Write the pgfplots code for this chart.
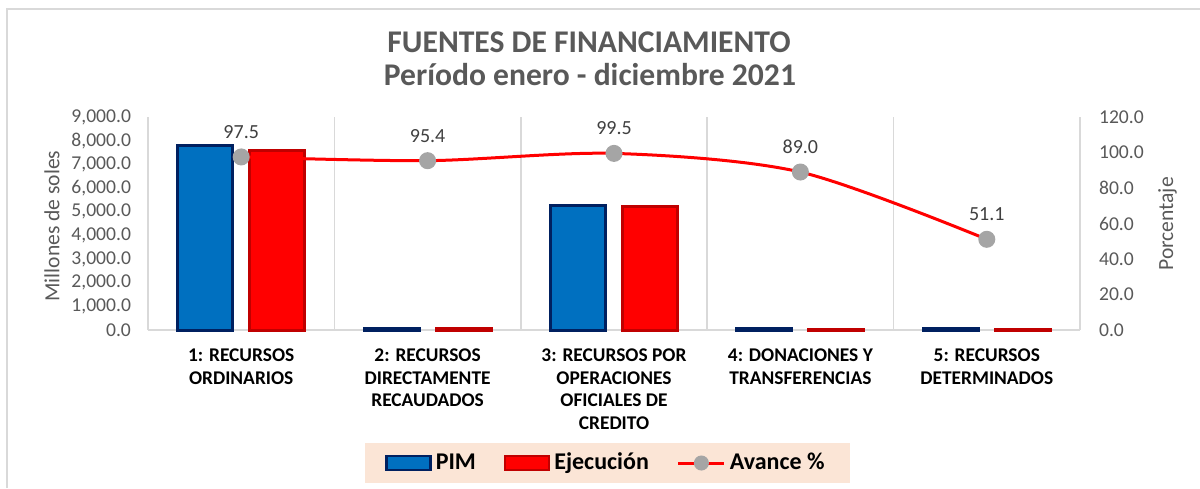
\documentclass[border=0pt]{standalone}
\usepackage{fontspec}
\setmainfont{Carlito}
\usepackage{pgfplots}
\pgfplotsset{compat=1.18}
\definecolor{pimfill}{HTML}{0070C0}
\definecolor{pimdraw}{HTML}{002060}
\definecolor{ejfill}{HTML}{FF0000}
\definecolor{ejdraw}{HTML}{C00000}
\definecolor{txt}{HTML}{595959}
\definecolor{lbl}{HTML}{404040}
\definecolor{mk}{HTML}{A5A5A5}
\definecolor{grd}{HTML}{D9D9D9}
\definecolor{leg}{HTML}{FBE5D6}
\begin{document}
\begin{tikzpicture}
\path[use as bounding box] (0,0) rectangle (600pt,-244pt);
\draw[grd, line width=1pt] (3.5pt,-244pt) -- (3.5pt,-4.5pt) -- (600pt,-4.5pt);
\node[font=\bfseries\fontsize{15.8}{18}\selectfont, text=txt] at (294.5pt,-21pt) {FUENTES DE FINANCIAMIENTO};
\node[font=\bfseries\fontsize{15.8}{18}\selectfont, text=txt] at (295pt,-37.5pt) {Período enero - diciembre 2021};
\fill[leg] (182.5pt,-221.5pt) rectangle (425pt,-241.5pt);
\begin{axis}[
  at={(74pt,-165pt)}, anchor=south west, scale only axis, clip=false,
  width=466pt, height=106.5pt,
  xmin=-0.5, xmax=4.5, ymin=0, ymax=9000,
  ybar=8.5pt, bar width=27.5pt,
  axis x line*=bottom, axis y line*=left,
  axis line style={grd, line width=0.75pt},
  major tick length=0pt, minor tick length=0pt,
  xtick={0,1,2,3,4},
  xticklabels={{1: RECURSOS\\ORDINARIOS},{2: RECURSOS\\DIRECTAMENTE\\RECAUDADOS},{3: RECURSOS POR\\OPERACIONES\\OFICIALES DE\\CREDITO},{4: DONACIONES Y\\TRANSFERENCIAS},{5: RECURSOS\\DETERMINADOS}},
  xticklabel style={align=center, font=\bfseries\fontsize{9.7}{11.3}\selectfont, text=black, anchor=north, yshift=-6pt},
  minor xtick={0.5,1.5,2.5,3.5}, xminorgrids,
  minor grid style={grd, line width=0.75pt},
  ytick={0,1000,...,9000},
  yticklabel style={text=txt, font=\fontsize{9.8}{11}\selectfont, xshift=-5pt},
  /pgf/number format/.cd, fixed, fixed zerofill, precision=1, 1000 sep={,}, assume math mode=true,
]
\addplot[fill=pimfill, draw=pimdraw, line width=1.5pt] coordinates {(0,7800) (1,50) (2,5250) (3,45) (4,45)};
\addplot[fill=ejfill, draw=ejdraw, line width=1.5pt] coordinates {(0,7605) (1,45) (2,5225) (3,40) (4,25)};
\node[rotate=90, text=txt, font=\fontsize{10.8}{12}\selectfont] at (axis description cs:-0.103,0.488) {Millones de soles};
\end{axis}
\begin{axis}[
  at={(74pt,-165pt)}, anchor=south west, scale only axis, clip=false,
  width=466pt, height=106.5pt,
  xmin=-0.5, xmax=4.5, ymin=0, ymax=120,
  axis y line*=right, axis x line=none,
  axis line style={grd, line width=0.75pt},
  major tick length=0pt,
  ytick={0,20,...,120},
  yticklabel style={text=txt, font=\fontsize{9.8}{11}\selectfont, xshift=6pt},
  /pgf/number format/.cd, fixed, fixed zerofill, precision=1, assume math mode=true,
  /pgfplots/.cd,
  legend columns=3,
  legend style={at={(axis description cs:0.4925,-0.6244)}, anchor=center, draw=none, fill=none,
    font=\bfseries\fontsize{12}{14}\selectfont, /tikz/every even column/.append style={column sep=12pt}},
]
\addlegendimage{legend image code/.code={\draw[fill=pimfill, draw=pimdraw, line width=1.2pt] (0pt,-3.5pt) rectangle (22pt,3.5pt);}}
\addlegendentry{PIM}
\addlegendimage{legend image code/.code={\draw[fill=ejfill, draw=ejdraw, line width=1.2pt] (0pt,-3.5pt) rectangle (22pt,3.5pt);}}
\addlegendentry{Ejecución}
\addplot[red, line width=1.5pt, smooth, mark=*, mark size=3.5pt, mark options={fill=mk, draw=mk},
  nodes near coords, point meta=y,
  nodes near coords style={text=lbl, font=\fontsize{10}{12}\selectfont, anchor=center, yshift=12.5pt},
  legend image code/.code={\draw[red, line width=1.5pt] (0pt,0pt) -- (23pt,0pt); \fill[mk] (11.5pt,0pt) circle (3pt);}]
  coordinates {(0,97.5) (1,95.4) (2,99.5) (3,89.0) (4,51.1)};
\addlegendentry{Avance \%}
\node[rotate=90, text=txt, font=\fontsize{10.8}{12}\selectfont] at (axis description cs:1.094,0.498) {Porcentaje};
\end{axis}
\end{tikzpicture}
\end{document}
